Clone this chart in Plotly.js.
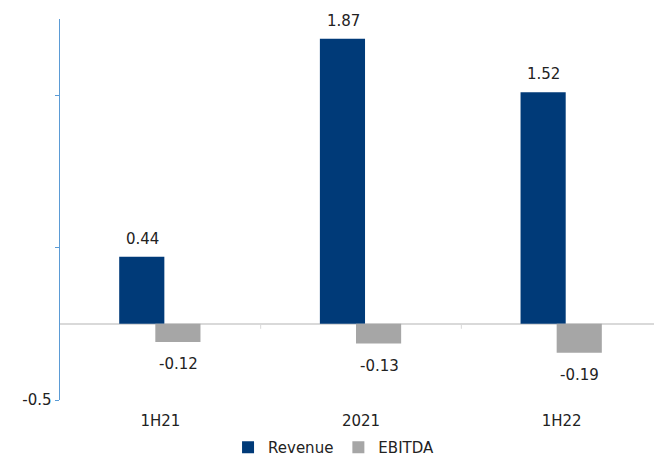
<!DOCTYPE html>
<html>
<head>
<meta charset="utf-8">
<script src="https://cdn.plot.ly/plotly-3.0.1.min.js"></script>
<style>html,body{margin:0;padding:0;background:#fff;}#chart{width:654px;height:464px;}</style>
</head>
<body>
<div id="chart"></div>
<script>
const categories = ['1H21', '2021', '1H22'];
const revenue = [0.44, 1.87, 1.52];
const ebitda = [-0.12, -0.13, -0.19];
const yTickVals = [-0.5, 0.5, 1.5];
const yTickText = ['-0.5', '', ''];

const FONT = 'DejaVu Sans, Verdana, sans-serif';
const FS = 15;
const BAR_W = 0.225;

const traces = [
  {type: 'bar', name: 'Revenue', x: categories, y: revenue, width: BAR_W, offset: -0.205,
   marker: {color: '#003a78'}, hoverinfo: 'skip'},
  {type: 'bar', name: 'EBITDA', x: categories, y: ebitda, width: BAR_W, offset: -0.025,
   marker: {color: '#a6a6a6'}, hoverinfo: 'skip'}
];

const annotations = [];
categories.forEach((c, i) => {
  annotations.push({x: i, y: revenue[i], xref: 'x', yref: 'y', text: revenue[i].toFixed(2),
    showarrow: false, yanchor: 'bottom', xshift: -18, yshift: 7, font: {family: FONT, size: FS, color: '#222'}});
  annotations.push({x: i, y: ebitda[i], xref: 'x', yref: 'y', text: ebitda[i].toFixed(2),
    showarrow: false, yanchor: 'top', xshift: 18, yshift: -11, font: {family: FONT, size: FS, color: '#222'}});
});

const shapes = [0.5, 1.5].map(v => ({type: 'line', xref: 'x', yref: 'y', ysizemode: 'pixel', yanchor: 0,
  x0: v, x1: v, y0: 0, y1: -5, line: {color: '#d9d9d9', width: 1}}));

const layout = {
  width: 654, height: 464,
  margin: {l: 60, r: 0, t: 19, b: 64, autoexpand: false},
  paper_bgcolor: '#fff', plot_bgcolor: '#fff',
  barmode: 'overlay',
  showlegend: true,
  font: {family: FONT, size: FS, color: '#222'},
  xaxis: {type: 'category', range: [-0.5, 2.46], showgrid: false, showline: false, zeroline: false,
    ticks: '', ticklabelstandoff: 10, tickfont: {family: FONT, size: FS, color: '#222'}, fixedrange: true, automargin: false},
  yaxis: {range: [-0.5, 2.0], showgrid: false, zeroline: true, zerolinecolor: '#d9d9d9', zerolinewidth: 1.5,
    showline: true, linecolor: '#5b9bd5', linewidth: 1.5, ticks: 'outside', ticklen: 4, tickcolor: '#5b9bd5',
    tickvals: yTickVals, ticktext: yTickText, tickfont: {family: FONT, size: FS, color: '#222'},
    fixedrange: true, automargin: false},
  legend: {orientation: 'h', xref: 'container', yref: 'container', x: 0.51, xanchor: 'center', y: -0.016, yanchor: 'bottom',
    font: {family: FONT, size: FS, color: '#222'}, itemwidth: 30, traceorder: 'normal', borderwidth: 0,
    tracegroupgap: 0},
  annotations: annotations,
  shapes: shapes
};

Plotly.newPlot('chart', traces, layout, {displayModeBar: false, staticPlot: true});
</script>
</body>
</html>
